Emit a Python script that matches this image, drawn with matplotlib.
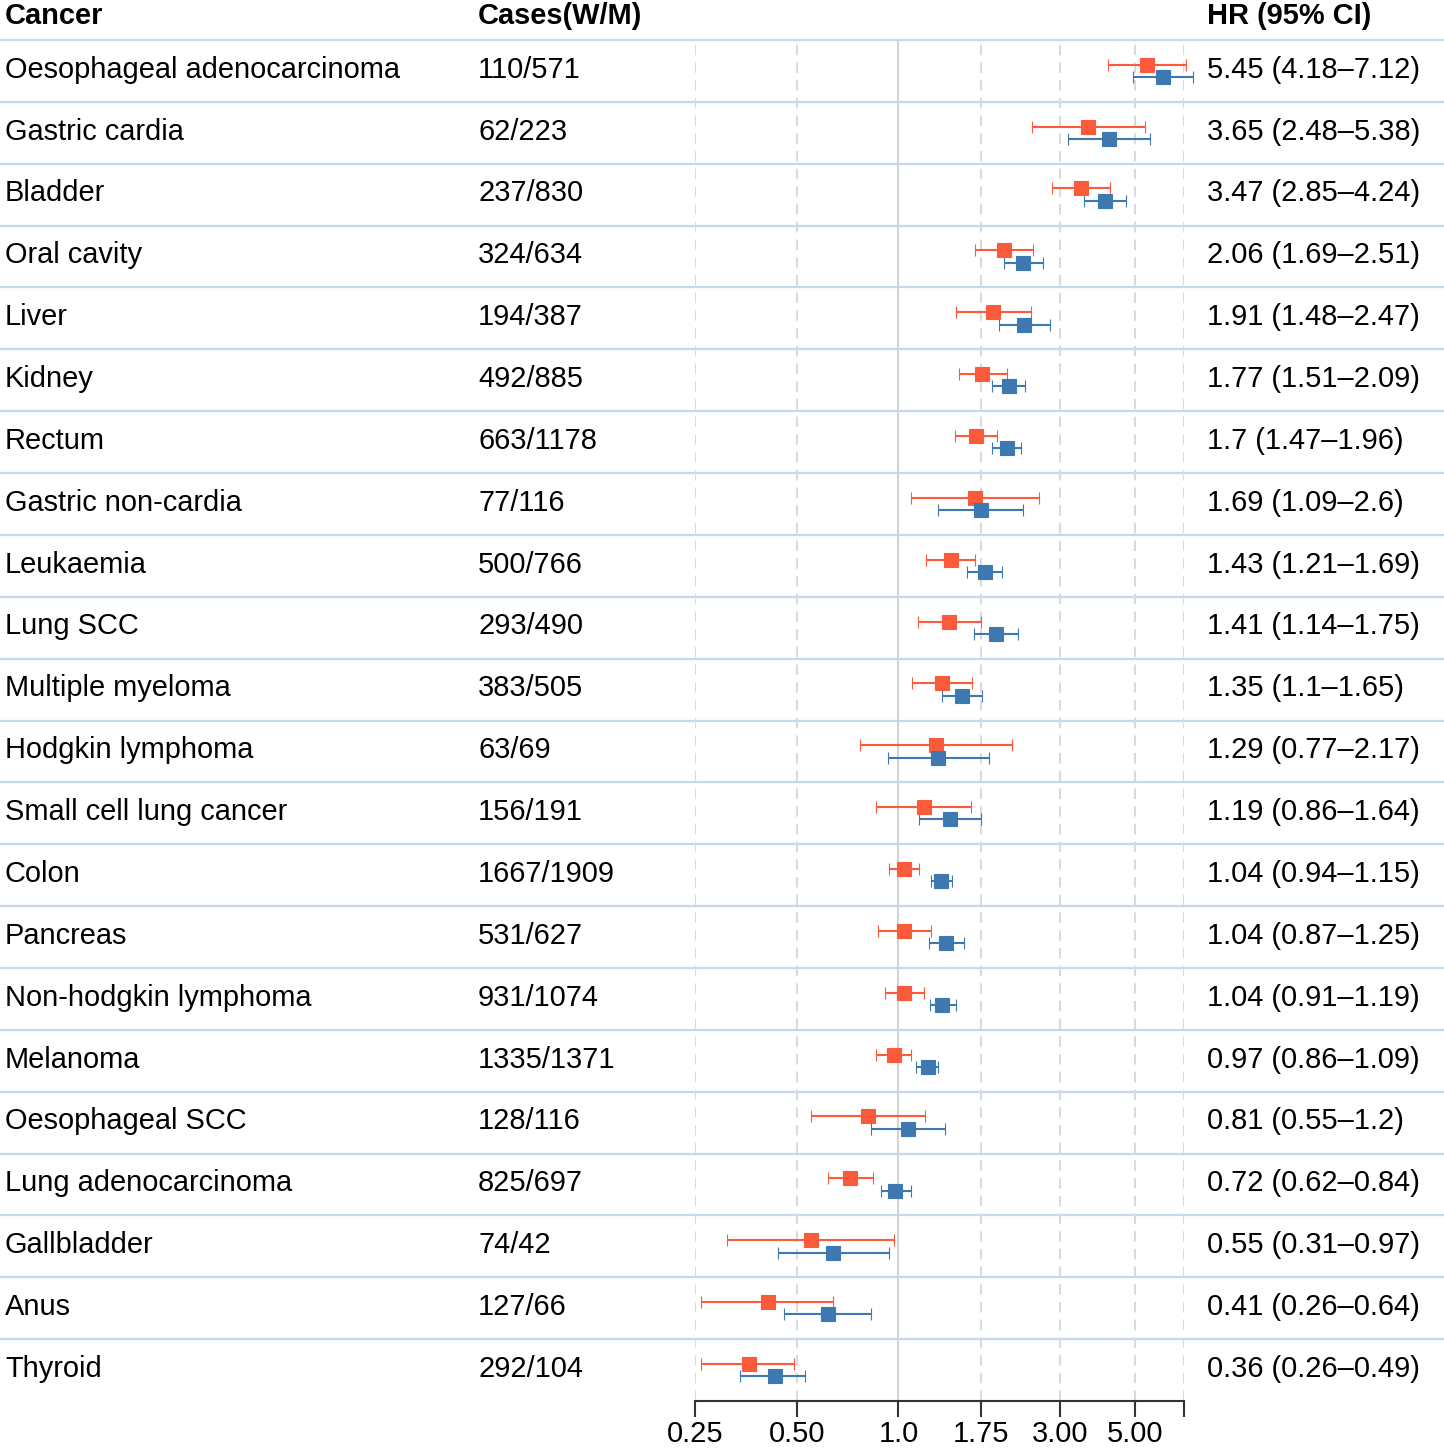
import numpy as np
import matplotlib
matplotlib.use("Agg")
import matplotlib.pyplot as plt
from matplotlib.ticker import NullLocator

plt.rcParams['font.family'] = ['Liberation Sans', 'DejaVu Sans']

cancers = ["Oesophageal adenocarcinoma", "Gastric cardia", "Bladder", "Oral cavity",
           "Liver", "Kidney", "Rectum", "Gastric non-cardia", "Leukaemia", "Lung SCC",
           "Multiple myeloma", "Hodgkin lymphoma", "Small cell lung cancer", "Colon",
           "Pancreas", "Non-hodgkin lymphoma", "Melanoma", "Oesophageal SCC",
           "Lung adenocarcinoma", "Gallbladder", "Anus", "Thyroid"]
cases = ["110/571", "62/223", "237/830", "324/634", "194/387", "492/885", "663/1178",
         "77/116", "500/766", "293/490", "383/505", "63/69", "156/191", "1667/1909",
         "531/627", "931/1074", "1335/1371", "128/116", "825/697", "74/42", "127/66",
         "292/104"]
hr_w = [5.45, 3.65, 3.47, 2.06, 1.91, 1.77, 1.7, 1.69, 1.43, 1.41, 1.35, 1.29, 1.19,
        1.04, 1.04, 1.04, 0.97, 0.81, 0.72, 0.55, 0.41, 0.36]
lo_w = [4.18, 2.48, 2.85, 1.69, 1.48, 1.51, 1.47, 1.09, 1.21, 1.14, 1.1, 0.77, 0.86,
        0.94, 0.87, 0.91, 0.86, 0.55, 0.62, 0.31, 0.26, 0.26]
hi_w = [7.12, 5.38, 4.24, 2.51, 2.47, 2.09, 1.96, 2.6, 1.69, 1.75, 1.65, 2.17, 1.64,
        1.15, 1.25, 1.19, 1.09, 1.2, 0.84, 0.97, 0.64, 0.49]
hr_m = [6.05, 4.19, 4.09, 2.34, 2.35, 2.12, 2.09, 1.75, 1.80, 1.95, 1.54, 1.31, 1.42,
        1.34, 1.38, 1.35, 1.22, 1.07, 0.98, 0.64, 0.62, 0.43]
lo_m = [4.93, 3.17, 3.55, 2.05, 1.98, 1.89, 1.89, 1.31, 1.60, 1.67, 1.35, 0.93, 1.15,
        1.25, 1.23, 1.24, 1.13, 0.83, 0.89, 0.44, 0.46, 0.34]
hi_m = [7.43, 5.56, 4.72, 2.68, 2.81, 2.37, 2.31, 2.34, 2.02, 2.26, 1.77, 1.85, 1.76,
        1.44, 1.56, 1.48, 1.31, 1.37, 1.09, 0.94, 0.83, 0.53]
headers = ["Cancer", "Cases(W/M)", "HR (95% CI)"]
tick_vals = [0.25, 0.5, 1.0, 1.75, 3.0, 5.0, 7.0]
tick_labels = ["0.25", "0.50", "1.0", "1.75", "3.00", "5.00", ""]

RED = "#FB5A3B"
BLUE = "#3E78B0"
SEP = "#C8D8EC"
GRID = "#DADADA"
FS = 20.9

W, H = 1444, 1450
fig = plt.figure(figsize=(W / 100, H / 100), dpi=100)
bottom = (H - 1401) / H
top = (H - 40) / H
n = len(cancers)
rows = np.arange(n)

# background axes: separators and text columns
bg = fig.add_axes([0, bottom, 1, top - bottom])
bg.set_xlim(0, 1)
bg.set_ylim(n - 0.5, -0.5)
bg.axis("off")
for r in range(n):
    bg.axhline(r - 0.5, color=SEP, lw=1.6, clip_on=False, zorder=1)

col_x = [5 / W, 478 / W, 1207 / W]
hy = -0.5 - 15.5 / 61.86
for x, h in zip(col_x, headers):
    bg.text(x, hy, h, fontsize=FS, fontweight="bold", ha="left", va="baseline", clip_on=False)
for i in range(n):
    yy = i - 0.02
    bg.text(col_x[0], yy, cancers[i], fontsize=FS, ha="left", va="center")
    bg.text(col_x[1], yy, cases[i], fontsize=FS, ha="left", va="center")
    label = f"{hr_w[i]:g} ({lo_w[i]:g}\u2013{hi_w[i]:g})"
    bg.text(col_x[2], yy, label, fontsize=FS, ha="left", va="center")

# forest axes
ax = fig.add_axes([695 / W, bottom, (1184 - 695) / W, top - bottom])
ax.patch.set_visible(False)
ax.set_xscale("log", base=2)
ax.set_xlim(0.25, 7)
ax.set_ylim(n - 0.5, -0.5)

for v in tick_vals:
    if v == 1.0:
        ax.axvline(v, color="#D4D4D4", lw=1.5, zorder=1)
    else:
        ax.axvline(v, color=GRID, lw=1.5, ls=(0, (5, 3.5)), zorder=1)

for hr, lo, hi, off, col in [(hr_w, lo_w, hi_w, -0.1, RED), (hr_m, lo_m, hi_m, 0.1, BLUE)]:
    hr = np.array(hr); lo = np.array(lo); hi = np.array(hi)
    cont = ax.errorbar(hr, rows + off, xerr=[hr - lo, hi - hr], fmt="s", color=col,
                       ecolor=col, ms=9.6, mec=col, mew=0.8, elinewidth=1.5,
                       capsize=4.3, capthick=1.5, zorder=3)
    for art in cont.get_children():
        art.set_clip_on(False)

ax.set_xticks(tick_vals)
ax.set_xticklabels(tick_labels)
ax.xaxis.set_minor_locator(NullLocator())
ax.set_yticks([])
for s in ["top", "left", "right"]:
    ax.spines[s].set_visible(False)
ax.spines["bottom"].set_color("#333333")
ax.spines["bottom"].set_linewidth(1.5)
ax.tick_params(axis="x", length=11.5, width=1.5, color="#333333", labelsize=FS, pad=2.5)

fig.savefig("out.png", dpi=100)
